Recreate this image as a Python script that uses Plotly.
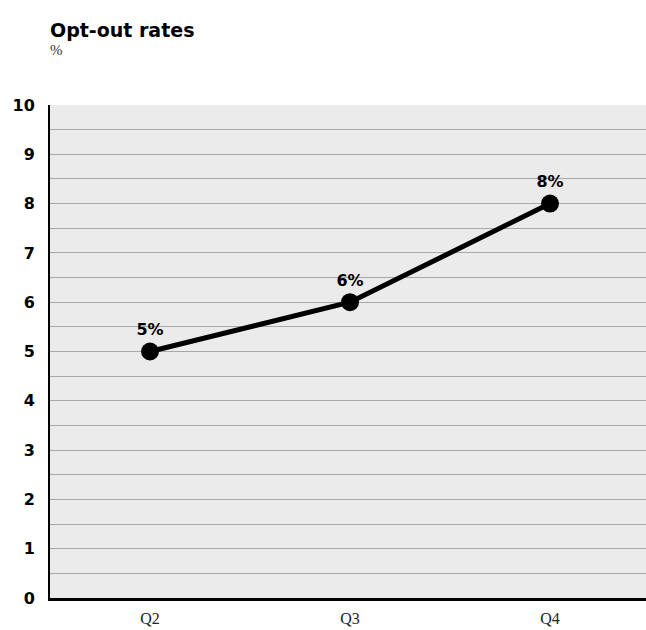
import plotly.graph_objects as go

quarters = ["Q2", "Q3", "Q4"]
opt_out = [5, 6, 8]
labels = [f"{v}%" for v in opt_out]

fig = go.Figure()
fig.add_trace(go.Scatter(
    x=quarters, y=opt_out,
    mode="lines+markers+text",
    line=dict(color="black", width=5),
    marker=dict(color="black", size=18),
    text=labels,
    textposition="top center",
    textfont=dict(family="DejaVu Sans", size=16, color="black", weight="bold"),
    cliponaxis=False,
    hoverinfo="skip",
))

fig.update_layout(
    width=646, height=630,
    margin=dict(l=50, r=0, t=105, b=32),
    paper_bgcolor="white",
    plot_bgcolor="#ebebeb",
    showlegend=False,
    xaxis=dict(
        range=[-0.5, 2.48],
        showgrid=False,
        showline=True, linecolor="black", linewidth=3,
        ticks="", ticklabelstandoff=4,
        tickfont=dict(family="Liberation Serif", size=16, color="#222"),
        fixedrange=True,
    ),
    yaxis=dict(
        range=[0, 10],
        dtick=1,
        showgrid=True, gridcolor="#a8a8a8", gridwidth=1,
        minor=dict(dtick=0.5, showgrid=True, gridcolor="#a8a8a8", gridwidth=1),
        showline=True, linecolor="black", linewidth=2,
        zeroline=False,
        ticks="", ticklabelstandoff=10,
        tickfont=dict(family="DejaVu Sans", size=16, color="black", weight="bold"),
        fixedrange=True,
    ),
)
fig.add_annotation(text="<b>Opt-out rates</b>", xref="paper", yref="paper",
                   x=-2 / 596, y=1 + 75 / 493, xanchor="left", yanchor="middle",
                   showarrow=False,
                   font=dict(family="DejaVu Sans", size=19, color="black"))
fig.add_annotation(text="%", xref="paper", yref="paper",
                   x=-2 / 596, y=1 + 55 / 493, xanchor="left", yanchor="middle",
                   showarrow=False,
                   font=dict(family="Liberation Serif", size=15, color="#333"))

fig.write_html("out.html")
